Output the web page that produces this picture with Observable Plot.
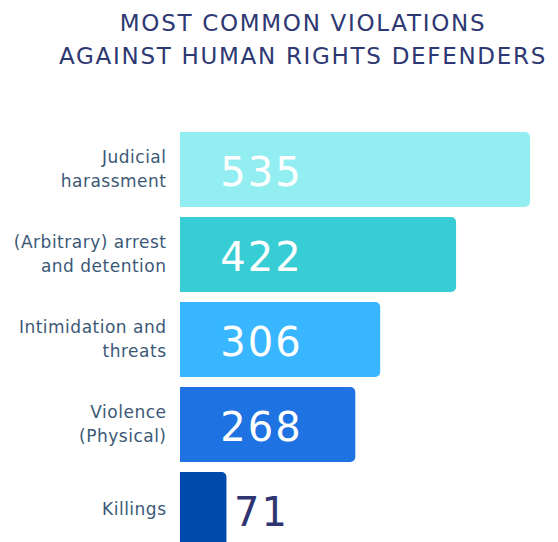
<!DOCTYPE html>
<html>
<head>
<meta charset="utf-8">
<script src="https://cdn.jsdelivr.net/npm/d3@7"></script>
<script src="https://cdn.jsdelivr.net/npm/@observablehq/plot@0.6"></script>
<style>
  html, body { margin: 0; padding: 0; background: #fff; overflow: hidden; width: 558px; height: 542px; }
  #title { height: 132px; box-sizing: border-box; padding-top: 7px; padding-left: 48px; text-align: center;
    font-family: "DejaVu Sans", sans-serif; font-size: 23px; line-height: 33px; color: #2e3872; letter-spacing: 1.7px; }
  #chart svg { display: block; }
  #chart .cat-label text { letter-spacing: 0.5px; }
  #chart .val-label text { letter-spacing: 2px; }
</style>
</head>
<body>
<div id="title">MOST COMMON VIOLATIONS<br>AGAINST HUMAN RIGHTS DEFENDERS</div>
<div id="chart"></div>
<script>
const categories = ["Judicial\nharassment", "(Arbitrary) arrest\nand detention", "Intimidation and\nthreats", "Violence\n(Physical)", "Killings"];
const values = [535, 422, 306, 268, 71];
const barColors = ["#93eef1", "#37cdd5", "#38b6ff", "#1f72e2", "#004aad"];
const valueColors = ["#ffffff", "#ffffff", "#ffffff", "#ffffff", "#2e3572"];

const data = categories.map((c, i) => ({category: c, value: values[i], bar: barColors[i], label: valueColors[i]}));

const chart = Plot.plot({
  width: 558,
  height: 416,
  marginTop: 0,
  marginBottom: 0,
  marginLeft: 180,
  marginRight: 28,
  x: {domain: [0, 535], axis: null},
  y: {domain: categories, paddingInner: 10 / 85, paddingOuter: 0, axis: null},
  color: {type: "identity"},
  style: {fontFamily: "DejaVu Sans, sans-serif", background: "white"},
  marks: [
    Plot.barX(data, {x: "value", y: "category", fill: "bar", rx2: 5}),
    Plot.text(data, {x: 0, y: "category", text: "category", textAnchor: "end", dx: -14, dy: -3,
      fontSize: 17, lineHeight: 1.45, fill: "#3b5977", className: "cat-label"}),
    Plot.text(data, {x: 0, y: "category", text: d => String(d.value), textAnchor: "middle", dx: 81, dy: 3,
      fontSize: 40, fill: "label", className: "val-label"})
  ]
});
document.getElementById("chart").appendChild(chart);
</script>
</body>
</html>
